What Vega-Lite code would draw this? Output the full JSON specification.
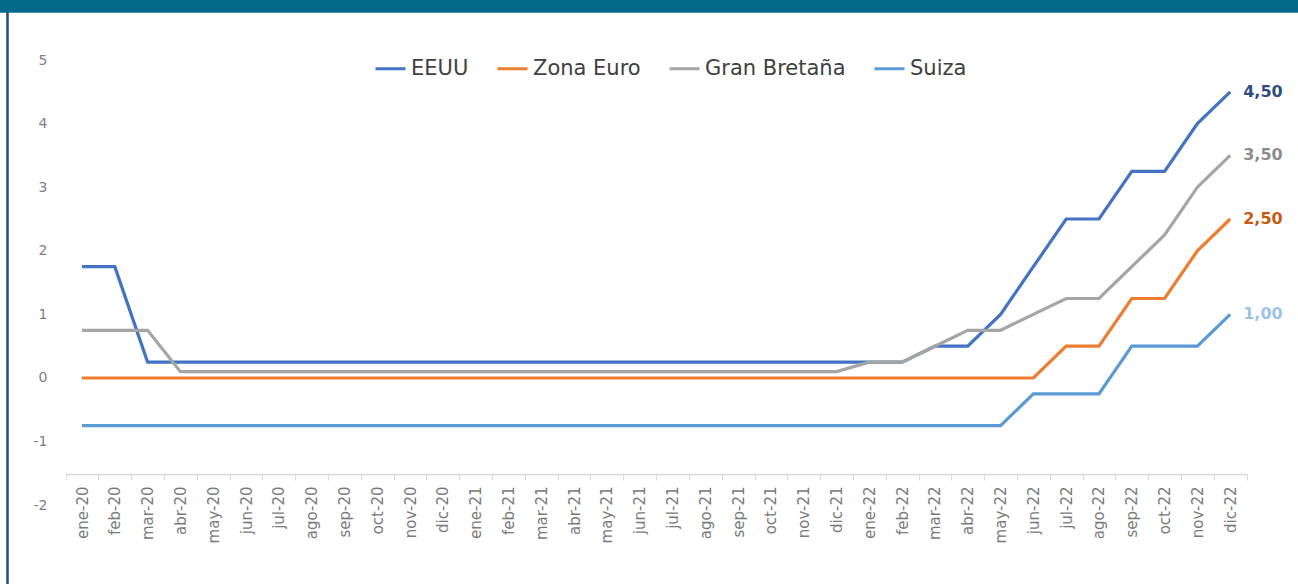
{
  "$schema": "https://vega.github.io/schema/vega-lite/v6.json",
  "width": 1298,
  "height": 584,
  "autosize": "none",
  "padding": 0,
  "background": "white",
  "config": {"view": {"stroke": null}, "font": "DejaVu Sans"},
  "datasets": {
    "tasas": [
      {"mes": "ene-20", "EEUU": 1.75, "Zona Euro": 0, "Gran Bretaña": 0.75, "Suiza": -0.75},
      {"mes": "feb-20", "EEUU": 1.75, "Zona Euro": 0, "Gran Bretaña": 0.75, "Suiza": -0.75},
      {"mes": "mar-20", "EEUU": 0.25, "Zona Euro": 0, "Gran Bretaña": 0.75, "Suiza": -0.75},
      {"mes": "abr-20", "EEUU": 0.25, "Zona Euro": 0, "Gran Bretaña": 0.1, "Suiza": -0.75},
      {"mes": "may-20", "EEUU": 0.25, "Zona Euro": 0, "Gran Bretaña": 0.1, "Suiza": -0.75},
      {"mes": "jun-20", "EEUU": 0.25, "Zona Euro": 0, "Gran Bretaña": 0.1, "Suiza": -0.75},
      {"mes": "jul-20", "EEUU": 0.25, "Zona Euro": 0, "Gran Bretaña": 0.1, "Suiza": -0.75},
      {"mes": "ago-20", "EEUU": 0.25, "Zona Euro": 0, "Gran Bretaña": 0.1, "Suiza": -0.75},
      {"mes": "sep-20", "EEUU": 0.25, "Zona Euro": 0, "Gran Bretaña": 0.1, "Suiza": -0.75},
      {"mes": "oct-20", "EEUU": 0.25, "Zona Euro": 0, "Gran Bretaña": 0.1, "Suiza": -0.75},
      {"mes": "nov-20", "EEUU": 0.25, "Zona Euro": 0, "Gran Bretaña": 0.1, "Suiza": -0.75},
      {"mes": "dic-20", "EEUU": 0.25, "Zona Euro": 0, "Gran Bretaña": 0.1, "Suiza": -0.75},
      {"mes": "ene-21", "EEUU": 0.25, "Zona Euro": 0, "Gran Bretaña": 0.1, "Suiza": -0.75},
      {"mes": "feb-21", "EEUU": 0.25, "Zona Euro": 0, "Gran Bretaña": 0.1, "Suiza": -0.75},
      {"mes": "mar-21", "EEUU": 0.25, "Zona Euro": 0, "Gran Bretaña": 0.1, "Suiza": -0.75},
      {"mes": "abr-21", "EEUU": 0.25, "Zona Euro": 0, "Gran Bretaña": 0.1, "Suiza": -0.75},
      {"mes": "may-21", "EEUU": 0.25, "Zona Euro": 0, "Gran Bretaña": 0.1, "Suiza": -0.75},
      {"mes": "jun-21", "EEUU": 0.25, "Zona Euro": 0, "Gran Bretaña": 0.1, "Suiza": -0.75},
      {"mes": "jul-21", "EEUU": 0.25, "Zona Euro": 0, "Gran Bretaña": 0.1, "Suiza": -0.75},
      {"mes": "ago-21", "EEUU": 0.25, "Zona Euro": 0, "Gran Bretaña": 0.1, "Suiza": -0.75},
      {"mes": "sep-21", "EEUU": 0.25, "Zona Euro": 0, "Gran Bretaña": 0.1, "Suiza": -0.75},
      {"mes": "oct-21", "EEUU": 0.25, "Zona Euro": 0, "Gran Bretaña": 0.1, "Suiza": -0.75},
      {"mes": "nov-21", "EEUU": 0.25, "Zona Euro": 0, "Gran Bretaña": 0.1, "Suiza": -0.75},
      {"mes": "dic-21", "EEUU": 0.25, "Zona Euro": 0, "Gran Bretaña": 0.1, "Suiza": -0.75},
      {"mes": "ene-22", "EEUU": 0.25, "Zona Euro": 0, "Gran Bretaña": 0.25, "Suiza": -0.75},
      {"mes": "feb-22", "EEUU": 0.25, "Zona Euro": 0, "Gran Bretaña": 0.25, "Suiza": -0.75},
      {"mes": "mar-22", "EEUU": 0.5, "Zona Euro": 0, "Gran Bretaña": 0.5, "Suiza": -0.75},
      {"mes": "abr-22", "EEUU": 0.5, "Zona Euro": 0, "Gran Bretaña": 0.75, "Suiza": -0.75},
      {"mes": "may-22", "EEUU": 1.0, "Zona Euro": 0, "Gran Bretaña": 0.75, "Suiza": -0.75},
      {"mes": "jun-22", "EEUU": 1.75, "Zona Euro": 0, "Gran Bretaña": 1.0, "Suiza": -0.25},
      {"mes": "jul-22", "EEUU": 2.5, "Zona Euro": 0.5, "Gran Bretaña": 1.25, "Suiza": -0.25},
      {"mes": "ago-22", "EEUU": 2.5, "Zona Euro": 0.5, "Gran Bretaña": 1.25, "Suiza": -0.25},
      {"mes": "sep-22", "EEUU": 3.25, "Zona Euro": 1.25, "Gran Bretaña": 1.75, "Suiza": 0.5},
      {"mes": "oct-22", "EEUU": 3.25, "Zona Euro": 1.25, "Gran Bretaña": 2.25, "Suiza": 0.5},
      {"mes": "nov-22", "EEUU": 4.0, "Zona Euro": 2.0, "Gran Bretaña": 3.0, "Suiza": 0.5},
      {"mes": "dic-22", "EEUU": 4.5, "Zona Euro": 2.5, "Gran Bretaña": 3.5, "Suiza": 1.0}
    ]
  },
  "data": {"name": "tasas"},
  "transform": [{"fold": ["EEUU", "Zona Euro", "Gran Bretaña", "Suiza"], "as": ["serie", "v"]}],
  "encoding": {
    "x": {
      "field": "mes",
      "type": "ordinal",
      "sort": null,
      "scale": {"type": "band", "range": [65.6, 1246.6], "paddingInner": 0, "paddingOuter": 0},
      "axis": {
        "title": null,
        "orient": "bottom",
        "offset": -110,
        "domainColor": "#d9d9d9",
        "domainWidth": 1.5,
        "tickColor": "#d9d9d9",
        "tickSize": 6,
        "tickWidth": 1,
        "tickBand": "extent",
        "labelAngle": 270,
        "labelAlign": "right",
        "labelBaseline": "middle",
        "labelPadding": 6,
        "labelFontSize": 15,
        "labelColor": "#7a7a7a",
        "labelFont": "DejaVu Sans",
        "labelOverlap": false,
        "grid": false
      }
    },
    "y": {
      "field": "v",
      "type": "quantitative",
      "scale": {"domain": [-3.239, 5.9434], "nice": false, "zero": false},
      "axis": {
        "title": null,
        "orient": "left",
        "offset": -7,
        "values": [-2, -1, 0, 1, 2, 3, 4, 5],
        "domainColor": "#1F4E79",
        "domainWidth": 2.5,
        "ticks": false,
        "tickSize": 0,
        "labelPadding": -40,
        "labelAlign": "right",
        "labelBaseline": "middle",
        "labelFontSize": 14,
        "labelColor": "#7f7f7f",
        "labelFont": "DejaVu Sans",
        "labelExpr": "'' + datum.value",
        "grid": false
      }
    }
  },
  "layer": [
    {
      "mark": {"type": "line", "strokeWidth": 3.2},
      "encoding": {
        "color": {
          "field": "serie",
          "type": "nominal",
          "scale": {"domain": ["EEUU", "Zona Euro", "Gran Bretaña", "Suiza"], "range": ["#4472C4", "#ED7D31", "#A5A5A5", "#5B9BD5"]},
          "legend": {
            "orient": "none",
            "legendX": 374,
            "legendY": 52,
            "direction": "horizontal",
            "title": null,
            "symbolType": "stroke",
            "symbolSize": 900,
            "symbolStrokeWidth": 3,
            "labelFontSize": 21,
            "labelColor": "#404040",
            "labelFont": "DejaVu Sans",
            "labelOffset": 4,
            "columnPadding": 22,
            "labelLimit": 300
          }
        }
      }
    },
    {
      "transform": [
        {"filter": "datum.mes === 'dic-22'"},
        {"calculate": "replace(format(datum.v, '.2f'), '.', ',')", "as": "etiqueta"}
      ],
      "mark": {"type": "text", "align": "left", "baseline": "middle", "dx": 13, "fontSize": 16, "fontWeight": "bold", "font": "DejaVu Sans"},
      "encoding": {
        "text": {"field": "etiqueta"},
        "color": {
          "field": "serie",
          "type": "nominal",
          "scale": {"domain": ["EEUU", "Zona Euro", "Gran Bretaña", "Suiza"], "range": ["#2F4D80", "#C55A11", "#8C8C8C", "#9DC3E6"]},
          "legend": null
        }
      }
    },
    {
      "transform": [{"filter": "datum.mes === 'ene-20' && datum.serie === 'EEUU'"}],
      "mark": {"type": "rect", "color": "#03698A"},
      "encoding": {
        "x": null,
        "y": {"datum": 5.9434, "type": "quantitative"},
        "y2": {"datum": 5.743}
      }
    }
  ],
  "resolve": {"scale": {"color": "independent"}}
}
